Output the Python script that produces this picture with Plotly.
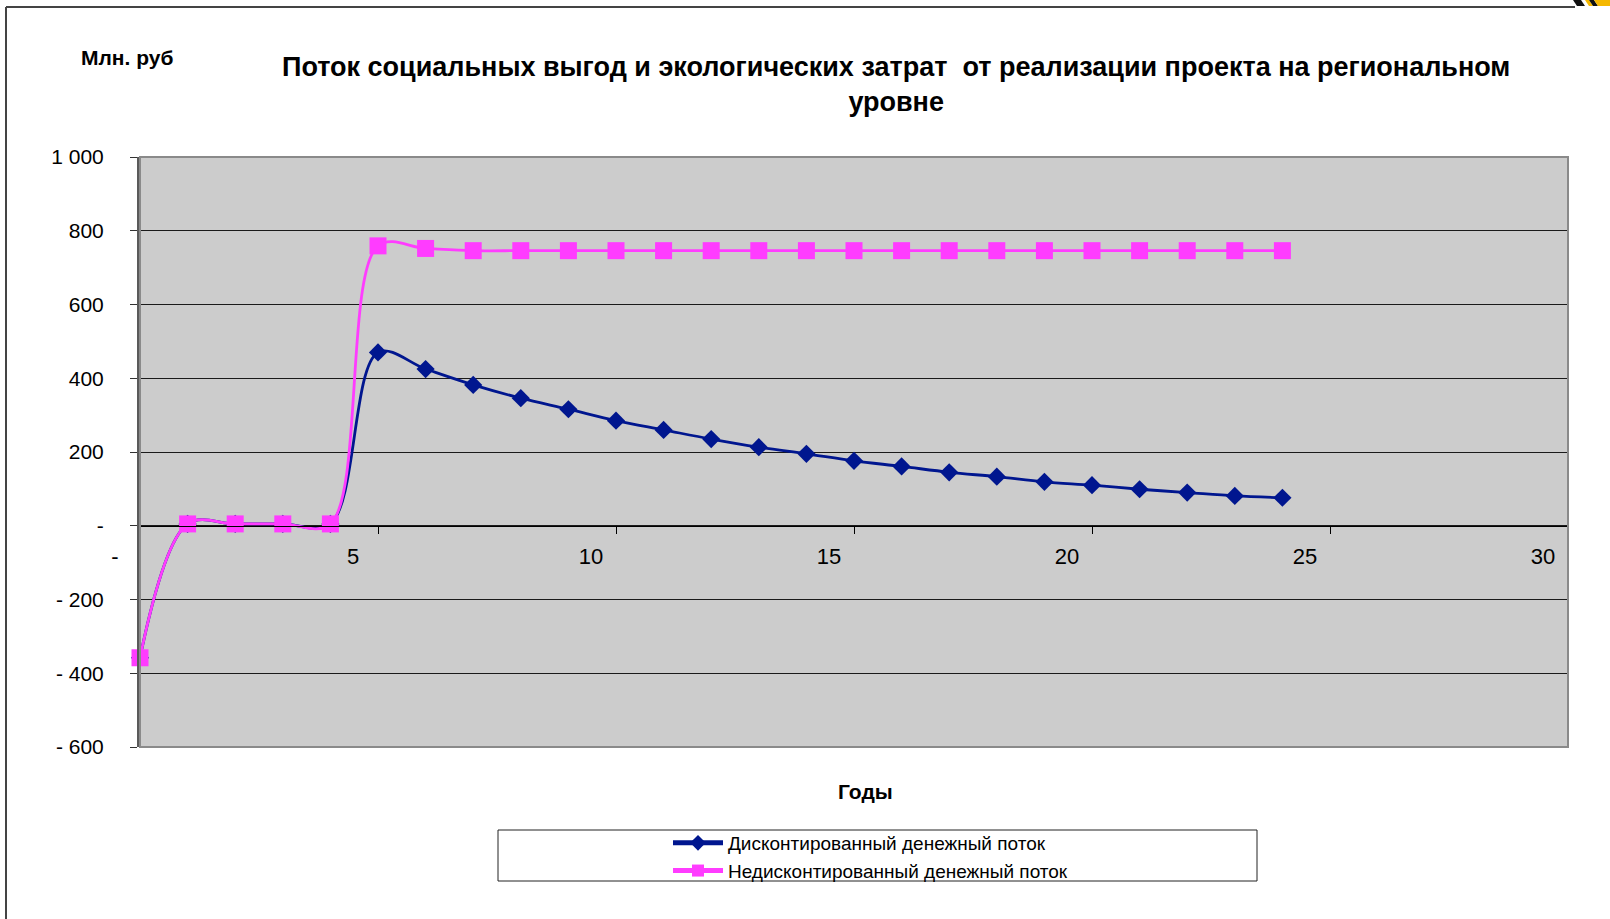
import plotly.graph_objects as go

# ---- data ----
years = list(range(0, 25))
discounted = [-358, 5, 5, 5, 5, 470, 425, 382, 346, 316, 285, 260, 235, 213, 195,
              176, 161, 145, 133, 119, 110, 99, 90, 81, 76]
undiscounted = [-358, 5, 5, 5, 5, 759, 752, 746, 746, 746, 746, 746, 746, 746, 746,
                746, 746, 746, 746, 746, 746, 746, 746, 746, 746]
y_tickvals = [1000, 800, 600, 400, 200, 0, -200, -400, -600]
y_ticktext = ["1 000", "800", "600", "400", "200", "-", "- 200", "- 400", "- 600"]
x_tickvals = [0, 5, 10, 15, 20, 25, 30]
x_ticktext = ["-", "5", "10", "15", "20", "25", "30"]
series_names = ["Дисконтированный денежный поток", "Недисконтированный денежный поток"]
title_text = ("Поток социальных выгод и экологических затрат  от реализации проекта на региональном"
              "<br>уровне")

# ---- layout geometry (pixels) ----
W, H = 1610, 919
PL, PT, PR, PB = 140, 157, 1568, 747          # plot area
L, T, R, B = PL, PT, W - PR, H - PB
PW, PH = PR - PL, PB - PT


def px(x):
    return (x - PL) / PW


def py(y):
    return (PB - y) / PH


def poly(points):
    return "M " + " L ".join(f"{px(a):.5f},{py(b):.5f}" for a, b in points) + " Z"


FONT = "Liberation Sans, Arial, sans-serif"
BLUE = "#00168F"
PINK = "#FF3CFF"

fig = go.Figure()
fig.add_trace(go.Scatter(
    x=years, y=discounted, name=series_names[0], mode="lines+markers",
    line=dict(color=BLUE, width=2.8, shape="spline", smoothing=1.0),
    marker=dict(symbol="diamond", size=14, color=BLUE), cliponaxis=False))
fig.add_trace(go.Scatter(
    x=years, y=undiscounted, name=series_names[1], mode="lines+markers",
    line=dict(color=PINK, width=2.8, shape="spline", smoothing=1.0),
    marker=dict(symbol="square", size=17, color=PINK), cliponaxis=False))

shapes = [
    # plot border
    dict(type="rect", xref="paper", yref="paper", x0=0, y0=0, x1=1, y1=1,
         line=dict(color="#8a8a8a", width=2), layer="above"),
    # legend box
    dict(type="rect", xref="paper", yref="paper", x0=px(498), x1=px(1257),
         y0=py(830), y1=py(881), line=dict(color="#222222", width=1)),
    # outer frame lines
    dict(type="line", xref="paper", yref="paper", x0=px(6), x1=px(1575),
         y0=py(7), y1=py(7), line=dict(color="#444444", width=2)),
    dict(type="line", xref="paper", yref="paper", x0=px(6), x1=px(6),
         y0=py(7), y1=py(925), line=dict(color="#444444", width=2)),
    # logo fragment (top-right corner)
    dict(type="path", xref="paper", yref="paper",
         path=poly([(1573, 0), (1581, 0), (1585, 6), (1577, 6)]),
         fillcolor="#111111", line=dict(width=0)),
    dict(type="path", xref="paper", yref="paper",
         path=poly([(1585, 0), (1589, 0), (1593, 6), (1589, 6)]),
         fillcolor="#F5B800", line=dict(width=0)),
    dict(type="path", xref="paper", yref="paper",
         path=poly([(1589, 0), (1594, 0), (1598, 6), (1593, 6)]),
         fillcolor="#111111", line=dict(width=0)),
    dict(type="path", xref="paper", yref="paper",
         path=poly([(1594, 0), (1610, 0), (1610, 6), (1598, 6)]),
         fillcolor="#F5B800", line=dict(width=0)),
]

annotations = [
    dict(text="<b>" + title_text + "</b>", xref="paper", yref="paper", x=px(896), y=py(84),
         xanchor="center", yanchor="middle", showarrow=False,
         font=dict(family=FONT, size=27, color="#000000")),
    dict(text="<b>Млн. руб</b>", xref="paper", yref="paper", x=px(127), y=py(57),
         xanchor="center", yanchor="middle", showarrow=False,
         font=dict(family=FONT, size=21, color="#000000")),
    dict(text="<b>Годы</b>", xref="paper", yref="paper", x=px(865), y=py(791),
         xanchor="center", yanchor="middle", showarrow=False,
         font=dict(family=FONT, size=21, color="#000000")),
]

fig.update_layout(
    width=W, height=H,
    margin=dict(l=L, r=R, t=T, b=B),
    paper_bgcolor="white",
    plot_bgcolor="#CCCCCC",
    font=dict(family=FONT, size=21, color="#000000"),
    shapes=shapes,
    annotations=annotations,
    showlegend=True,
    legend=dict(x=px(668), y=py(824), xanchor="left", yanchor="top",
                bgcolor="rgba(0,0,0,0)", borderwidth=0,
                font=dict(family=FONT, size=19, color="#000000"),
                itemsizing="constant", itemwidth=50, tracegroupgap=0),
    xaxis=dict(range=[0, 30], anchor="free", position=600 / 1600,
               tickvals=x_tickvals, ticktext=x_ticktext,
               ticks="outside", ticklen=7, tickcolor="#000000", tickwidth=1,
               ticklabelshift=-25, ticklabelstandoff=4,
               showgrid=False, zeroline=False,
               showline=True, linecolor="#000000", linewidth=1,
               tickfont=dict(family=FONT, size=22, color="#000000")),
    yaxis=dict(range=[-600, 1000], tickvals=y_tickvals, ticktext=y_ticktext,
               ticks="outside", ticklen=7, tickcolor="#333333", tickwidth=1,
               ticklabelstandoff=22,
               showgrid=True, gridcolor="#1a1a1a", gridwidth=1.2,
               zeroline=False,
               showline=True, linecolor="#5a5a5a", linewidth=3,
               tickfont=dict(family=FONT, size=21, color="#000000")),
)

fig.write_html("out.html", config={"displayModeBar": False},
               post_script="document.body.style.margin='0';")
